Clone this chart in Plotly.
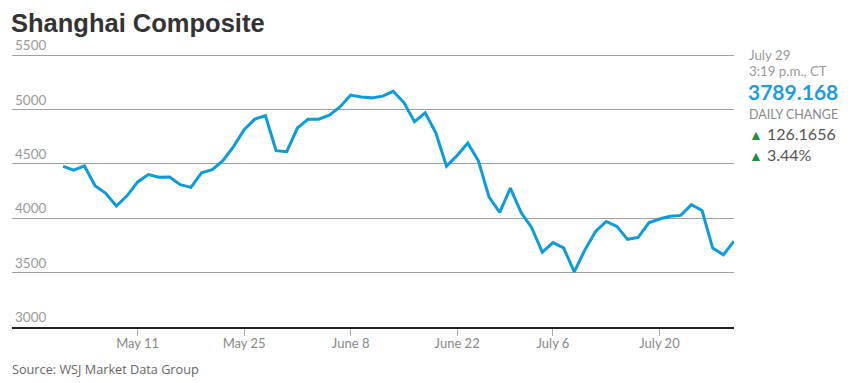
import plotly.graph_objects as go
import pandas as pd

dates = [
    "2015-04-29", "2015-04-30", "2015-05-04", "2015-05-05", "2015-05-06", "2015-05-07", "2015-05-08",
    "2015-05-11", "2015-05-12", "2015-05-13", "2015-05-14", "2015-05-15",
    "2015-05-18", "2015-05-19", "2015-05-20", "2015-05-21", "2015-05-22",
    "2015-05-25", "2015-05-26", "2015-05-27", "2015-05-28", "2015-05-29",
    "2015-06-01", "2015-06-02", "2015-06-03", "2015-06-04", "2015-06-05",
    "2015-06-08", "2015-06-09", "2015-06-10", "2015-06-11", "2015-06-12",
    "2015-06-15", "2015-06-16", "2015-06-17", "2015-06-18", "2015-06-19",
    "2015-06-23", "2015-06-24", "2015-06-25", "2015-06-26",
    "2015-06-29", "2015-06-30", "2015-07-01", "2015-07-02", "2015-07-03",
    "2015-07-06", "2015-07-07", "2015-07-08", "2015-07-09", "2015-07-10",
    "2015-07-13", "2015-07-14", "2015-07-15", "2015-07-16", "2015-07-17",
    "2015-07-20", "2015-07-21", "2015-07-22", "2015-07-23", "2015-07-24",
    "2015-07-27", "2015-07-28", "2015-07-29",
]
values = [
    4476.6, 4441.7, 4480.5, 4298.7, 4229.3, 4112.2, 4205.9,
    4333.6, 4401.2, 4375.8, 4378.3, 4308.7,
    4283.5, 4417.6, 4446.3, 4529.4, 4657.6,
    4813.8, 4910.9, 4941.7, 4620.3, 4611.7,
    4828.7, 4910.5, 4910.0, 4947.1, 5023.1,
    5131.9, 5113.5, 5106.0, 5121.6, 5166.4,
    5063.0, 4887.4, 4967.9, 4785.4, 4478.4,
    4576.5, 4690.2, 4527.8, 4192.9,
    4053.0, 4277.2, 4053.7, 3912.8, 3686.9,
    3775.9, 3727.1, 3507.2, 3709.3, 3877.8,
    3970.4, 3924.5, 3805.7, 3823.2, 3957.4,
    3992.1, 4017.7, 4026.0, 4123.9, 4070.9,
    3725.6, 3663.0, 3789.168,
]
tick_dates = ["2015-05-11", "2015-05-25", "2015-06-08", "2015-06-22", "2015-07-06", "2015-07-20"]
tick_labels = ["May 11", "May 25", "June 8", "June 22", "July 6", "July 20"]
y_ticks = [3000, 3500, 4000, 4500, 5000, 5500]

# trading-day index scale
d = pd.to_datetime(dates)
idx = list(range(len(dates)))
tick_pos = [int((d >= pd.Timestamp(t)).argmax()) for t in tick_dates]

LINE = "#0e9bda"
fig = go.Figure()
fig.add_trace(go.Scatter(x=idx, y=values, mode="lines",
                         line=dict(color=LINE, width=3), hoverinfo="skip"))

# page body has an 8px margin, so the figure is 8px smaller and offset
OFF = 8
W, HT = 856 - OFF, 383 - OFF
L, R = 12, 734          # plot-area left/right in screen pixels
TOP, BOT = 30, 327      # plot-area top/bottom in screen pixels
Y5500 = 55              # screen y of the 5500 gridline
y_top = 5500 + (Y5500 - TOP) * 2500 / (BOT - Y5500)

fig.update_layout(
    width=W, height=HT,
    margin=dict(l=L - OFF, r=W - (R - OFF), t=TOP - OFF, b=HT - (BOT - OFF), autoexpand=False),
    paper_bgcolor="white", plot_bgcolor="white",
    showlegend=False,
    font=dict(family="Lato", color="#888"),
    xaxis=dict(
        range=[-4.8, len(dates) - 1], tickmode="array",
        tickvals=tick_pos, ticktext=tick_labels,
        showgrid=False, zeroline=False, automargin=False,
        showline=True, linecolor="#222", linewidth=1.5,
        ticks="outside", ticklen=7, tickcolor="#aaa", tickwidth=1,
        ticklabelstandoff=-3,
        tickfont=dict(family="Lato", size=13, color="#888"),
    ),
    yaxis=dict(
        range=[3000, y_top], tickmode="array", tickvals=y_ticks,
        showgrid=True, gridcolor="#a0a0a0", gridwidth=1,
        zeroline=False, showline=False, automargin=False,
        ticklabelposition="inside top",
        tickfont=dict(family="Lato", size=13.5, color="#999"),
    ),
)

def py(pix):
    return (BOT - pix) / (BOT - TOP)

def px(pix):
    return (pix - L) / (R - L)

GREEN = "#1e8f3e"
# (text, x, y, anchor-y, size, colour, family, weight)
anns = [
    ("Shanghai Composite", 10, 8.2, "top", 25.5, "#333", "Liberation Sans", "bold"),
    ("Source: WSJ Market Data Group", 11, 369, "middle", 12.7, "#666", "Open Sans", "normal"),
    ("July 29", 748, 55, "middle", 13.3, "#999", "Lato", "normal"),
    ("3:19 p.m., CT", 748, 71, "middle", 13.3, "#999", "Lato", "normal"),
    ("3789.168", 747, 91.5, "middle", 21, "#1a9ee0", "Lato", "bold"),
    ("DAILY CHANGE", 748, 114, "middle", 12.5, "#888", "Lato", "normal"),
    (f"<span style='color:{GREEN};font-size:14px'>▲</span> 126.1656", 748, 134, "middle", 16, "#555", "Lato", "normal"),
    (f"<span style='color:{GREEN};font-size:14px'>▲</span> 3.44%", 748, 154, "middle", 16, "#555", "Lato", "normal"),
]
for text, x, y, ya, size, color, family, weight in anns:
    fig.add_annotation(text=text, x=px(x), y=py(y), xref="paper", yref="paper",
                       xanchor="left", yanchor=ya, showarrow=False, borderpad=0,
                       font=dict(size=size, color=color, family=family, weight=weight))

fig.write_html("out.html")
